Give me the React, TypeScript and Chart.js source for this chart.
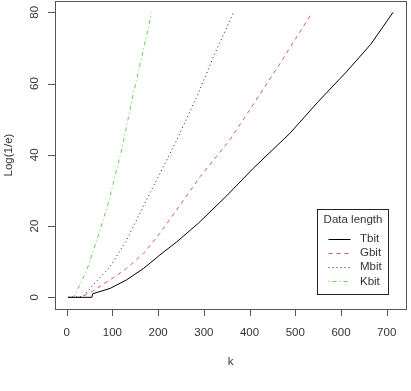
import React, { useEffect, useRef } from "react";
import { Chart, registerables } from "chart.js";

Chart.register(...registerables);

// Data
const tbitK = [3, 55, 57, 95, 131, 168, 204, 241, 288, 350, 408, 488, 550, 612, 665, 714];
const tbitV = [0, 0, 1, 2.5, 4.9, 8.1, 11.9, 15.6, 20.8, 28.5, 36.2, 46, 54.9, 63.3, 71, 80];

const gbitK = [3, 30, 55, 95, 131, 168, 204, 248, 292, 357, 412, 467, 537];
const gbitV = [0, 0, 1.6, 4.9, 8.1, 12.3, 18, 25.9, 33.9, 44.2, 54.9, 65.7, 80];

const mbitK = [3, 36, 58, 95, 131, 171, 204, 241, 288, 321, 365];
const mbitV = [0, 0.2, 3.5, 8.6, 16.1, 26.4, 34.8, 44.2, 57.3, 67.5, 80];

const kbitK = [3, 15, 18, 44, 66, 91, 120, 146, 167, 186];
const kbitV = [0, 0, 0.6, 7.7, 16.1, 26.4, 41.3, 57.3, 69, 80];

const xTicks = [0, 100, 200, 300, 400, 500, 600, 700];
const yTicks = [0, 20, 40, 60, 80];

const seriesLabels = ["Tbit", "Gbit", "Mbit", "Kbit"];
const legendTitle = "Data length";
const xTitle = "k";
const yTitle = "Log(1/e)";

const FONT = "11.5px 'Liberation Sans', Arial, sans-serif";
const TEXT = "#333";
const AXIS = "#555";

const toPts = (ks: number[], vs: number[]) => ks.map((k, i) => ({ x: k, y: vs[i] }));

const rPlot = {
  id: "rPlot",
  afterDraw(chart: any) {
    const { ctx, chartArea: a, scales } = chart;
    const xs = scales.x;
    const ys = scales.y;
    ctx.save();
    // box
    ctx.strokeStyle = AXIS;
    ctx.lineWidth = 1;
    ctx.setLineDash([]);
    ctx.strokeRect(Math.round(a.left) + 0.5, Math.round(a.top) + 0.5, Math.round(a.right - a.left), Math.round(a.bottom - a.top));
    ctx.font = FONT;
    ctx.fillStyle = TEXT;
    // x axis
    ctx.beginPath();
    xTicks.forEach((t) => {
      const px = Math.round(xs.getPixelForValue(t)) + 0.5;
      ctx.moveTo(px, a.bottom);
      ctx.lineTo(px, a.bottom + 7);
    });
    ctx.stroke();
    ctx.textAlign = "center";
    ctx.textBaseline = "middle";
    xTicks.forEach((t) => {
      ctx.fillText(String(t), xs.getPixelForValue(t), a.bottom + 24);
    });
    ctx.fillText(xTitle, (a.left + a.right) / 2, a.bottom + 53);
    // y axis
    ctx.beginPath();
    yTicks.forEach((t) => {
      const py = Math.round(ys.getPixelForValue(t)) + 0.5;
      ctx.moveTo(a.left, py);
      ctx.lineTo(a.left - 7, py);
    });
    ctx.stroke();
    yTicks.forEach((t) => {
      ctx.save();
      ctx.translate(a.left - 20, ys.getPixelForValue(t));
      ctx.rotate(-Math.PI / 2);
      ctx.fillText(String(t), 0, 0);
      ctx.restore();
    });
    ctx.save();
    ctx.translate(a.left - 46, (a.top + a.bottom) / 2);
    ctx.rotate(-Math.PI / 2);
    ctx.fillText(yTitle, 0, 0);
    ctx.restore();

    // legend
    const lx = 317.5, ly = 209.5, lw = 71, lh = 85;
    ctx.fillStyle = "#fff";
    ctx.fillRect(lx, ly, lw, lh);
    ctx.strokeStyle = "#222";
    ctx.strokeRect(lx, ly, lw, lh);
    ctx.fillStyle = TEXT;
    ctx.textAlign = "center";
    ctx.fillText(legendTitle, lx + lw / 2, ly + 10.5);
    chart.data.datasets.forEach((ds: any, i: number) => {
      const y = ly + 29 + i * 14.3;
      ctx.strokeStyle = ds.borderColor;
      ctx.lineWidth = 1;
      ctx.setLineDash(ds.borderDash || []);
      ctx.beginPath();
      ctx.moveTo(lx + 11, Math.round(y) + 0.5);
      ctx.lineTo(lx + 33, Math.round(y) + 0.5);
      ctx.stroke();
      ctx.setLineDash([]);
      ctx.textAlign = "left";
      ctx.fillStyle = TEXT;
      ctx.fillText(ds.label, lx + 42.5, y);
    });
    ctx.restore();
  },
};

export default function App() {
  const ref = useRef<HTMLCanvasElement>(null);
  useEffect(() => {
    if (!ref.current) return;
    const common = { showLine: true, pointRadius: 0, borderWidth: 1, fill: false, tension: 0 };
    const chart = new Chart(ref.current, {
      type: "scatter",
      data: {
        datasets: [
          { ...common, label: seriesLabels[0], data: toPts(tbitK, tbitV), borderColor: "#000000" },
          { ...common, label: seriesLabels[1], data: toPts(gbitK, gbitV), borderColor: "#DF536B", borderDash: [4, 4] },
          { ...common, label: seriesLabels[2], data: toPts(mbitK, mbitV), borderColor: "#1a1a70", borderDash: [1, 3] },
          { ...common, label: seriesLabels[3], data: toPts(kbitK, kbitV), borderColor: "#61D04F", borderDash: [1, 3, 4, 3] },
        ],
      },
      options: {
        responsive: false,
        animation: false,
        layout: { padding: { left: 55, right: 5, top: 1, bottom: 82 } },
        plugins: { legend: { display: false }, tooltip: { enabled: false } },
        scales: {
          x: { type: "linear", display: false, min: -25.6, max: 742.2 },
          y: { type: "linear", display: false, min: -3.28, max: 83.17 },
        },
      },
      plugins: [rPlot],
    });
    return () => chart.destroy();
  }, []);
  return (
    <div style={{ position: "fixed", left: 0, top: 0, width: 411, height: 391, background: "#fff" }}>
      <canvas ref={ref} width={411} height={391} style={{ display: "block", width: 411, height: 391 }} />
    </div>
  );
}
